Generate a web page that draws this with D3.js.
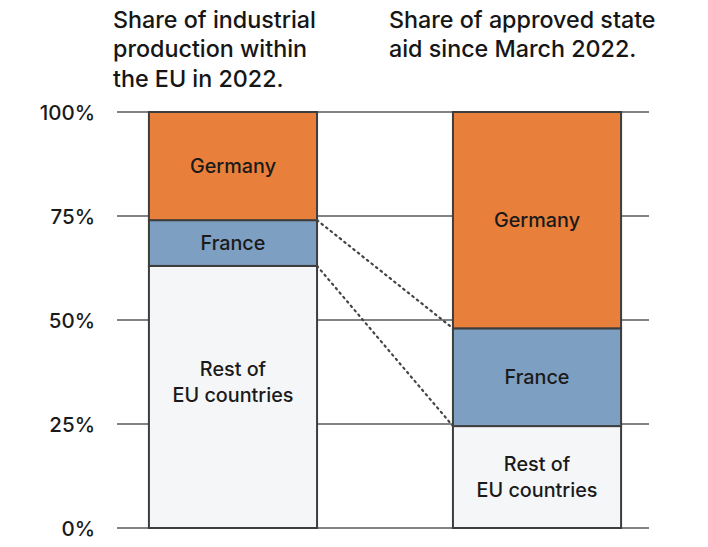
<!DOCTYPE html>
<html>
<head>
<meta charset="utf-8">
<script src="https://cdn.jsdelivr.net/npm/d3@7"></script>
<style>
  html, body { margin: 0; padding: 0; background: #fff; }
  svg { display: block; font-family: Inter, "Noto Sans", sans-serif; }
</style>
</head>
<body>
<div id="chart"></div>
<script>
// ---- data ----
const columns = ["Share of industrial production within the EU in 2022.", "Share of approved state aid since March 2022."];
const columnTitleLines = [
  ["Share of industrial", "production within", "the EU in 2022."],
  ["Share of approved state", "aid since March 2022."]
];
const segments = ["Rest of EU countries", "France", "Germany"];
const segmentLabelLines = [["Rest of", "EU countries"], ["France"], ["Germany"]];
const restValues = [63, 24.5];
const franceValues = [11, 23.5];
const germanyValues = [26, 52];
const tickValues = [0, 25, 50, 75, 100];
const tickLabels = ["0%", "25%", "50%", "75%", "100%"];

// ---- layout ----
const W = 708, H = 547;
const colors = { "Rest of EU countries": "#f5f6f8", "France": "#7d9fc1", "Germany": "#e8803c" };

const svg = d3.select("#chart").append("svg").attr("width", W).attr("height", H);

const y = d3.scaleLinear().domain([0, 100]).range([528, 112]);
const x = d3.scaleBand().domain(columns).range([117, 653]).paddingInner(0.447).paddingOuter(0.105);

const table = columns.map((c, i) => ({
  col: c,
  "Rest of EU countries": restValues[i],
  "France": franceValues[i],
  "Germany": germanyValues[i]
}));
const stack = d3.stack().keys(segments)(table);

// gridlines
svg.append("g").selectAll("line").data(tickValues).join("line")
  .attr("x1", 117).attr("x2", 649)
  .attr("y1", d => y(d)).attr("y2", d => y(d))
  .attr("stroke", "#5a5a5a").attr("stroke-width", 1.6);

// y axis labels
const yAxis = d3.axisLeft(y).tickValues(tickValues).tickFormat((d, i) => tickLabels[i]).tickSize(0).tickPadding(0);
const ag = svg.append("g").attr("transform", "translate(95,0)").call(yAxis);
ag.select(".domain").remove();
ag.selectAll("text").attr("font-size", 20.5).attr("font-weight", 500).attr("fill", "#1a1a1a")
  .attr("font-family", "Inter, sans-serif").attr("dy", "0.36em");

// bars
const segG = svg.append("g").selectAll("g").data(stack).join("g")
  .attr("fill", d => colors[d.key]);
segG.selectAll("rect").data(d => d).join("rect")
  .attr("x", d => x(d.data.col))
  .attr("width", x.bandwidth())
  .attr("y", d => y(d[1]))
  .attr("height", d => y(d[0]) - y(d[1]))
  .attr("stroke", "#3d3d3d").attr("stroke-width", 2);

// dotted connector lines (France top and bottom)
const fr = stack[1];
const connectors = [
  [fr[0][1], fr[1][1]],
  [fr[0][0], fr[1][0]]
];
const x0 = x(columns[0]) + x.bandwidth();
const x1 = x(columns[1]);
svg.append("g").selectAll("line").data(connectors).join("line")
  .attr("x1", x0).attr("x2", x1)
  .attr("y1", d => y(d[0])).attr("y2", d => y(d[1]))
  .attr("stroke", "#444").attr("stroke-width", 2.2)
  .attr("stroke-dasharray", "1.6,4.2").attr("stroke-linecap", "round");

// segment labels
const labelShift = { "Rest of EU countries|0": -15 };
stack.forEach((layer, li) => {
  layer.forEach((d, ci) => {
    const lines = segmentLabelLines[li];
    const cx = x(d.data.col) + x.bandwidth() / 2;
    const cy = (y(d[0]) + y(d[1])) / 2 + (labelShift[layer.key + "|" + ci] || 0);
    const lh = 26;
    const t = svg.append("text").attr("text-anchor", "middle")
      .attr("font-size", 19.8).attr("font-weight", 500).attr("fill", "#1a1a1a");
    lines.forEach((ln, k) => {
      t.append("tspan").attr("x", cx)
        .attr("y", cy + (k - (lines.length - 1) / 2) * lh)
        .attr("dy", "0.36em").text(ln);
    });
  });
});

// column titles
const titleX = [113, 389];
columnTitleLines.forEach((lines, i) => {
  const t = svg.append("text").attr("font-size", 23.3).attr("font-weight", 500).attr("fill", "#161616");
  lines.forEach((ln, k) => {
    t.append("tspan").attr("x", titleX[i]).attr("y", 27.5 + k * 29.5).text(ln);
  });
});
</script>
</body>
</html>
